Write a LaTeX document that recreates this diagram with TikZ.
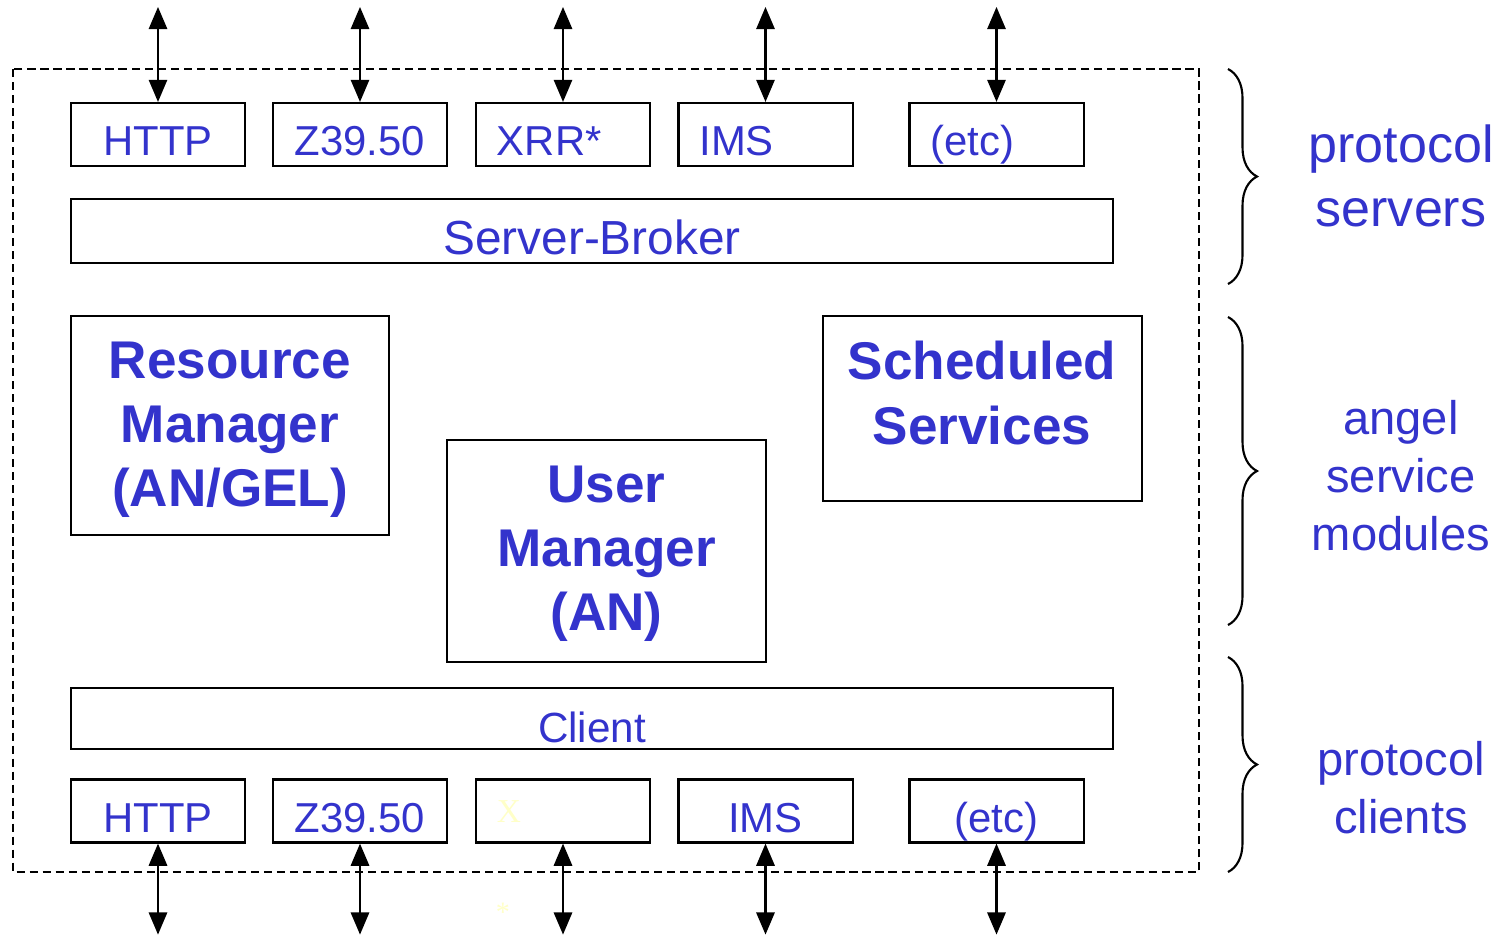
\documentclass[tikz,border=0pt]{standalone}
\usepackage{fontspec}
\setmainfont{Liberation Sans}
\newfontfamily\xfont{Liberation Serif}
\usepackage{tikz}
\usetikzlibrary{arrows.meta, decorations.pathreplacing}
\definecolor{angelblue}{RGB}{51,51,204}
\definecolor{paleyellow}{RGB}{255,255,200}
\tikzset{
  pbox/.style = {draw=black, line width=0.6pt, text=angelblue, inner sep=0pt,
    minimum width=1.74cm, minimum height=0.63cm, text height=0.45cm,
    text depth=0.03cm, font=\fontsize{11.9}{14}\selectfont},
  pboxl/.style = {pbox, text width=1.32cm, inner xsep=0.21cm, align=left},
  bar/.style = {draw=black, line width=0.6pt, text=angelblue, inner sep=0pt,
    minimum width=10.42cm, minimum height=0.63cm, text height=0.49cm,
    text depth=0.02cm, font=\fontsize{12}{14}\selectfont},
  modtext/.style = {text=angelblue, align=center, inner sep=0pt,
    font=\bfseries\fontsize{15.1}{18.2}\selectfont},
  module/.style = {draw=black, line width=0.6pt, inner sep=0pt},
  side/.style = {text=angelblue, align=center,
    font=\fontsize{13.4}{16.5}\selectfont},
  link/.style = {line width=0.6pt,
    {Triangle[length=6.3pt,width=5.2pt]}-{Triangle[length=6.3pt,width=5.2pt]}},
  grp/.style = {line width=0.6pt, decorate,
    decoration={brace, amplitude=0.29cm}}
}

\begin{document}
\begin{tikzpicture}[x=0.01cm, y=-0.01cm]
\useasboundingbox (0,0) rectangle (1506,935);

% outer frame
\draw[line width=0.5pt, dash pattern=on 2.3pt off 1.4pt] (13,69) rectangle (1199,872);

% protocol servers
\node[pbox] (shttp) at (158,134.5) {HTTP};
\node[pbox] (sz) at (360,134.5) {Z39.50};
\node[pboxl] (sxrr) at (563,134.5) {XRR*};
\node[pboxl] (sims) at (765.5,134.5) {IMS};
\node[pboxl] (setc) at (996.5,134.5) {(etc)};
\node[bar, minimum height=0.64cm, font=\fontsize{13.6}{16}\selectfont] (broker) at (592,231)
  {Server-Broker};

% service modules
\node[module, minimum width=3.18cm, minimum height=2.19cm] (resmgr) at (230,425.5) {};
\node[modtext] (resmgrtext) at (230,429.5) {Resource\\Manager\\(AN/GEL)};
\node[module, minimum width=3.19cm, minimum height=2.22cm] (usrmgr) at (606.5,551) {};
\node[modtext] (usrmgrtext) at (606.5,554) {User\\Manager\\(AN)};
\node[module, minimum width=3.19cm, minimum height=1.85cm] (sched) at (982.5,408.5) {};
\node[modtext] (schedtext) at (982,393) {Scheduled\\Services};

% protocol clients
\node[bar, minimum height=0.61cm] (client) at (592,718.5) {Client};
\node[pbox] (chttp) at (158,811) {HTTP};
\node[pbox] (cz) at (360,811) {Z39.50};
\node[pboxl, text=paleyellow, text height=0.24cm, text depth=0.02cm,
  font=\xfont\fontsize{9.5}{11}\selectfont] (cx) at (563,811) {X};
\node[pbox] (cims) at (765.5,811) {IMS};
\node[pbox] (cetc) at (996.5,811) {(etc)};
\node[text=paleyellow, font=\xfont\fontsize{8}{9}\selectfont] (star) at (503,912) {*};

% links
\foreach \n in {shttp,sz,sxrr,sims,setc}
  \draw[link] (\n.north) -- ++(0,-95);
\foreach \n in {chttp,cz,cx,cims,cetc}
  \draw[link] (\n.south) -- ++(0,91);

% groups
\draw[grp] (1228,69) -- (1228,284);
\draw[grp] (1228,317) -- (1228,625);
\draw[grp] (1228,657) -- (1228,872);
\node[side, font=\fontsize{14.8}{18.2}\selectfont] (servers) at (1401,176) {protocol\\servers};
\node[side] (modules) at (1401,476) {angel\\service\\modules};
\node[side] (clients) at (1401,788) {protocol\\clients};
\end{tikzpicture}
\end{document}
